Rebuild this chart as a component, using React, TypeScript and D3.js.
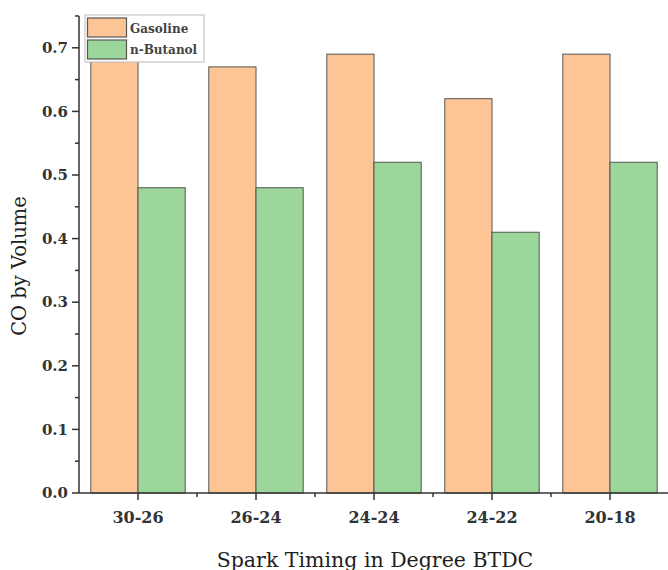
import React, { useEffect, useRef } from "react";
import * as d3 from "d3";

const categories = ["30-26", "26-24", "24-24", "24-22", "20-18"];
const gasoline = [0.7, 0.67, 0.69, 0.62, 0.69];
const butanol = [0.48, 0.48, 0.52, 0.41, 0.52];
const seriesNames = ["Gasoline", "n-Butanol"];
const colors = ["#fdc596", "#9dd69a"];
const yTicks = [0, 0.1, 0.2, 0.3, 0.4, 0.5, 0.6, 0.7];

const App = () => {
  const ref = useRef<SVGSVGElement>(null);

  useEffect(() => {
    const svg = d3.select(ref.current);
    svg.selectAll("*").remove();

    const font = "'DejaVu Serif', serif";
    const left = 79;
    const bottom = 493;

    const x = d3
      .scaleBand()
      .domain(categories)
      .range([left, 669])
      .paddingInner(0.2)
      .paddingOuter(0.1);
    const y = d3.scaleLinear().domain([0, 0.75]).range([bottom, bottom - 0.75 * 636]);

    const bw = x.bandwidth() / 2;
    const series = [gasoline, butanol];

    series.forEach((vals, s) => {
      svg
        .append("g")
        .selectAll("rect")
        .data(vals)
        .enter()
        .append("rect")
        .attr("x", (d, i) => (x(categories[i]) as number) + s * bw)
        .attr("y", (d) => y(d))
        .attr("width", bw)
        .attr("height", (d) => bottom - y(d))
        .attr("fill", colors[s])
        .attr("stroke", "#555")
        .attr("stroke-width", 1);
    });

    // y axis
    const axisColor = "#333";
    svg
      .append("line")
      .attr("x1", left)
      .attr("x2", left)
      .attr("y1", y(0.75))
      .attr("y2", bottom)
      .attr("stroke", axisColor)
      .attr("stroke-width", 1.5);
    d3.range(0, 0.76, 0.05).forEach((v) => {
      const major = Math.round(v * 100) % 10 === 0;
      svg
        .append("line")
        .attr("x1", left)
        .attr("x2", left - (major ? 7 : 4))
        .attr("y1", y(v))
        .attr("y2", y(v))
        .attr("stroke", axisColor)
        .attr("stroke-width", 1.5);
    });
    svg
      .append("g")
      .selectAll("text")
      .data(yTicks)
      .enter()
      .append("text")
      .attr("x", left - 11)
      .attr("y", (d) => y(d))
      .attr("dy", "0.35em")
      .attr("text-anchor", "end")
      .attr("font-family", font)
      .attr("font-weight", "bold")
      .attr("font-size", 15)
      .attr("fill", "#333")
      .text((d) => d.toFixed(1));

    // x axis
    svg
      .append("line")
      .attr("x1", left)
      .attr("x2", 668)
      .attr("y1", bottom)
      .attr("y2", bottom)
      .attr("stroke", axisColor)
      .attr("stroke-width", 1.5);
    categories.forEach((c, i) => {
      const cx = (x(c) as number) + x.bandwidth() / 2;
      svg
        .append("line")
        .attr("x1", cx)
        .attr("x2", cx)
        .attr("y1", bottom)
        .attr("y2", bottom + 7)
        .attr("stroke", axisColor)
        .attr("stroke-width", 1.5);
      const bx = left + x.step() * (i + 1);
      svg
        .append("line")
        .attr("x1", bx)
        .attr("x2", bx)
        .attr("y1", bottom)
        .attr("y2", bottom + 4)
        .attr("stroke", axisColor)
        .attr("stroke-width", 1.5);
      svg
        .append("text")
        .attr("x", cx)
        .attr("y", 523)
        .attr("text-anchor", "middle")
        .attr("font-family", font)
        .attr("font-weight", "bold")
        .attr("font-size", 16)
        .attr("fill", "#333")
        .text(c);
    });

    // axis titles
    svg
      .append("text")
      .attr("x", 375)
      .attr("y", 567)
      .attr("text-anchor", "middle")
      .attr("font-family", font)
      .attr("font-size", 20.5)
      .attr("fill", "#1e1e1e")
      .text("Spark Timing in Degree BTDC");
    svg
      .append("text")
      .attr("transform", "translate(26,266) rotate(-90)")
      .attr("text-anchor", "middle")
      .attr("font-family", font)
      .attr("font-size", 19.5)
      .attr("fill", "#1e1e1e")
      .text("CO by Volume");

    // legend
    const lg = svg.append("g").attr("transform", "translate(85,15)");
    lg.append("rect")
      .attr("width", 119)
      .attr("height", 47)
      .attr("fill", "white")
      .attr("stroke", "#bbb")
      .attr("stroke-width", 1);
    seriesNames.forEach((n, i) => {
      lg.append("rect")
        .attr("x", 2.5)
        .attr("y", 3 + i * 22)
        .attr("width", 39)
        .attr("height", 19)
        .attr("fill", colors[i])
        .attr("stroke", "#555")
        .attr("stroke-width", 1.2);
      lg.append("text")
        .attr("x", 45)
        .attr("y", 13.5 + i * 21.5)
        .attr("dy", "0.35em")
        .attr("font-family", font)
        .attr("font-weight", "bold")
        .attr("font-size", 12)
        .attr("fill", "#444")
        .text(n);
    });
  }, []);

  return (
    <svg
      ref={ref}
      width={668}
      height={570}
      style={{ display: "block", position: "absolute", left: 0, top: 0 }}
    />
  );
};

export default App;
